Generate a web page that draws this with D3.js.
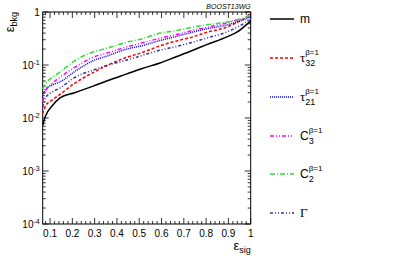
<!DOCTYPE html>
<html>
<head>
<meta charset="utf-8">
<script src="https://cdn.jsdelivr.net/npm/d3@7"></script>
<style>
  body { margin: 0; background: #fff; }
  text { font-family: "Liberation Sans", Arial, sans-serif; }
</style>
</head>
<body>
<svg id="chart" width="407" height="259"></svg>
<script>
// signal efficiency grid
var effSig = [0.067, 0.08, 0.11, 0.145, 0.21, 0.293, 0.36, 0.445, 0.51, 0.593, 0.66, 0.741, 0.8, 0.893, 0.94, 0.98, 1.0];
// background efficiencies per observable
var mass   = [0.0074, 0.011, 0.017, 0.024, 0.030, 0.040, 0.051, 0.068, 0.085, 0.109, 0.14, 0.19, 0.24, 0.34, 0.42, 0.57, 0.68];
var tau32  = [0.012, 0.017, 0.022, 0.028, 0.045, 0.072, 0.10, 0.14, 0.17, 0.23, 0.28, 0.34, 0.41, 0.52, 0.64, 0.80, 0.90];
var tau21  = [0.024, 0.035, 0.042, 0.048, 0.075, 0.12, 0.15, 0.20, 0.23, 0.29, 0.34, 0.42, 0.48, 0.57, 0.65, 0.75, 0.82];
var c3     = [0.020, 0.032, 0.045, 0.059, 0.09, 0.14, 0.17, 0.22, 0.26, 0.32, 0.37, 0.45, 0.51, 0.62, 0.70, 0.78, 0.85];
var c2     = [0.035, 0.045, 0.058, 0.074, 0.12, 0.176, 0.21, 0.27, 0.31, 0.40, 0.44, 0.52, 0.57, 0.65, 0.72, 0.80, 0.87];
var gammaV = [0.016, 0.024, 0.031, 0.037, 0.058, 0.08, 0.10, 0.124, 0.15, 0.19, 0.22, 0.27, 0.32, 0.42, 0.52, 0.65, 0.75];

var xTicks = [0.1, 0.2, 0.3, 0.4, 0.5, 0.6, 0.7, 0.8, 0.9, 1];
var yTicks = [1e-4, 1e-3, 1e-2, 1e-1, 1];

var series = [
  { name: "m", vals: mass, color: "#000000", dash: null, w: 1.5 },
  { name: "tau32", vals: tau32, color: "#ff0000", dash: "3,2", w: 1.5 },
  { name: "tau21", vals: tau21, color: "#0000ff", dash: "1,1", w: 1.5 },
  { name: "c3", vals: c3, color: "#ff00ff", dash: "4,2,1,2,1,2", w: 1.5 },
  { name: "c2", vals: c2, color: "#33dd33", dash: "5,2,1,2", w: 1.5 },
  { name: "gamma", vals: gammaV, color: "#3333aa", dash: "3,2,1,2,1,2", w: 1.5 }
];

var svg = d3.select("#chart");
var pL = 42.7, pR = 250.7, pT = 12, pB = 224;

var x = d3.scaleLinear().domain([0.067, 1]).range([pL, pR]);
var y = d3.scaleLog().domain([1e-4, 1]).range([pB, pT]);

// frame
svg.append("rect")
  .attr("x", pL).attr("y", pT)
  .attr("width", pR - pL).attr("height", pB - pT)
  .attr("fill", "none").attr("stroke", "#000").attr("stroke-width", 1);

// x ticks (bottom and top, inward)
var xMinor = d3.range(0.08, 1.0001, 0.02);
xMinor.forEach(function (v) {
  var major = Math.abs(v * 10 - Math.round(v * 10)) < 1e-6;
  var len = major ? 6 : 3;
  svg.append("line").attr("x1", x(v)).attr("x2", x(v))
    .attr("y1", pB).attr("y2", pB - len)
    .attr("stroke", "#000").attr("stroke-width", 0.8);
  svg.append("line").attr("x1", x(v)).attr("x2", x(v))
    .attr("y1", pT).attr("y2", pT + len)
    .attr("stroke", "#000").attr("stroke-width", 0.8);
});

// y ticks (log, left and right, inward)
for (var e = -4; e <= 0; e++) {
  for (var k = 1; k <= 9; k++) {
    var v = k * Math.pow(10, e);
    if (v > 1) break;
    var len = k === 1 ? 6 : 3;
    svg.append("line").attr("x1", pL).attr("x2", pL + len)
      .attr("y1", y(v)).attr("y2", y(v))
      .attr("stroke", "#000").attr("stroke-width", 0.8);
    svg.append("line").attr("x1", pR).attr("x2", pR - len)
      .attr("y1", y(v)).attr("y2", y(v))
      .attr("stroke", "#000").attr("stroke-width", 0.8);
  }
}

// x tick labels
svg.selectAll(".xl").data(xTicks).enter().append("text")
  .attr("x", function (d) { return x(d); })
  .attr("y", pB + 13)
  .attr("text-anchor", "middle")
  .style("font-size", "10px")
  .text(function (d) { return d === 1 ? "1" : d3.format(".1f")(d); });

// y tick labels
yTicks.forEach(function (d) {
  var t = svg.append("text")
    .attr("x", pL - 3).attr("y", y(d) + 4)
    .attr("text-anchor", "end")
    .style("font-size", "10px");
  if (d === 1) {
    t.text("1");
  } else {
    t.append("tspan").text("10");
    t.append("tspan").attr("dy", -4).style("font-size", "7px")
      .text(String(Math.round(Math.log10(d))));
  }
});

// axis titles
var yt = svg.append("text")
  .attr("transform", "translate(14,12) rotate(-90)")
  .attr("text-anchor", "end")
  .style("font-size", "13px");
yt.append("tspan").text("ε");
yt.append("tspan").attr("dy", 3).style("font-size", "9px").text("bkg");

var xt = svg.append("text")
  .attr("x", pR).attr("y", pB + 26)
  .attr("text-anchor", "end")
  .style("font-size", "13px");
xt.append("tspan").text("ε");
xt.append("tspan").attr("dy", 3).style("font-size", "9px").text("sig");

svg.append("text")
  .attr("x", pR).attr("y", 9)
  .attr("text-anchor", "end")
  .style("font-size", "7px").style("font-style", "italic")
  .text("BOOST13WG");

// curves
var line = d3.line()
  .x(function (d, i) { return x(effSig[i]); })
  .y(function (d) { return y(d); })
  .curve(d3.curveMonotoneX);

series.forEach(function (s) {
  svg.append("path")
    .datum(s.vals)
    .attr("d", line)
    .attr("fill", "none")
    .attr("stroke", s.color)
    .attr("stroke-width", s.w)
    .attr("stroke-dasharray", s.dash);
});

// legend
var legY = [19, 58, 97, 136, 174, 213];
series.forEach(function (s, i) {
  var ly = legY[i];
  svg.append("line")
    .attr("x1", 270).attr("x2", 294)
    .attr("y1", ly).attr("y2", ly)
    .attr("stroke", s.color).attr("stroke-width", s.w)
    .attr("stroke-dasharray", s.dash);
  if (s.name === "m") {
    svg.append("text").attr("x", 300).attr("y", ly + 4)
      .style("font-size", "12px").text("m");
  } else if (s.name === "gamma") {
    svg.append("text").attr("x", 300).attr("y", ly + 4)
      .style("font-family", "Liberation Serif").style("font-size", "13px").text("Γ");
  } else {
    var isTau = s.name.indexOf("tau") === 0;
    var b = svg.append("text").attr("x", 300).attr("y", ly + 4)
      .style("font-size", isTau ? "13px" : "12px")
      .style("font-family", isTau ? "Liberation Serif" : null)
      .text(isTau ? "τ" : "C");
    var bw = b.node().getComputedTextLength();
    svg.append("text").attr("x", 300 + bw).attr("y", ly + 8)
      .style("font-size", "9px").text(s.name.replace("tau", "").replace("c", ""));
    svg.append("text").attr("x", 300 + bw).attr("y", ly - 3)
      .style("font-size", "8px").text("β=1");
  }
});
</script>
</body>
</html>
